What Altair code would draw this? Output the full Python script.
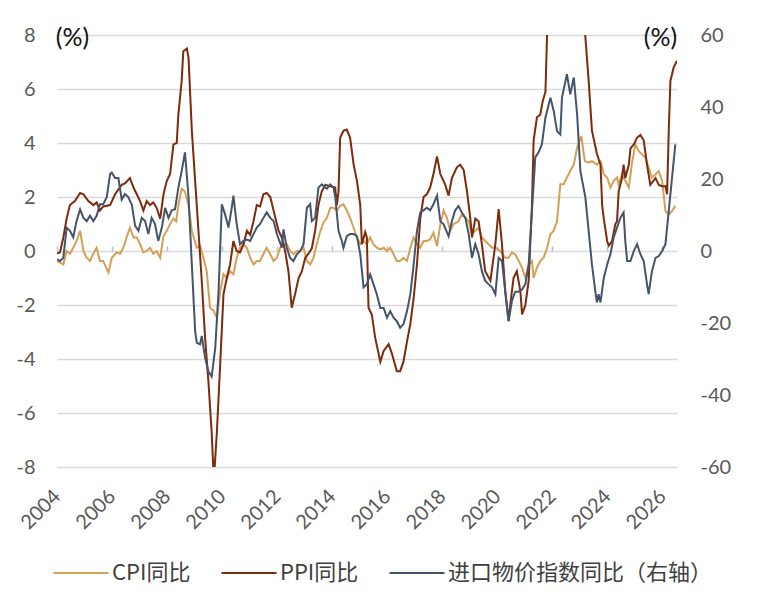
import altair as alt
import pandas as pd

CPI_NAME = "CPI同比"
PPI_NAME = "PPI同比"
IMP_NAME = "进口物价指数同比（右轴）"

# CPI YoY, %, left axis
cpi_year = [
    2004.00, 2004.11, 2004.23, 2004.35, 2004.47, 2004.59, 2004.71, 2004.84, 2004.96,
    2005.08, 2005.20, 2005.32, 2005.44, 2005.56, 2005.68, 2005.87, 2005.99, 2006.17,
    2006.29, 2006.41, 2006.53, 2006.65, 2006.78, 2006.90, 2007.02, 2007.14, 2007.26,
    2007.38, 2007.50, 2007.62, 2007.75, 2007.87, 2007.99, 2008.11, 2008.23, 2008.33,
    2008.41, 2008.53, 2008.65, 2008.78, 2008.90, 2009.08, 2009.20, 2009.32, 2009.44,
    2009.56, 2009.68, 2009.81, 2009.93, 2010.05, 2010.17, 2010.29, 2010.41, 2010.53,
    2010.65, 2010.78, 2010.90, 2011.02, 2011.14, 2011.26, 2011.38, 2011.50, 2011.62,
    2011.75, 2011.87, 2011.99, 2012.11, 2012.23, 2012.35, 2012.47, 2012.59, 2012.72,
    2012.84, 2012.96, 2013.08, 2013.20, 2013.32, 2013.44, 2013.56, 2013.68, 2013.81,
    2013.93, 2014.05, 2014.17, 2014.29, 2014.41, 2014.53, 2014.65, 2014.78, 2014.90,
    2015.02, 2015.14, 2015.26, 2015.38, 2015.50, 2015.62, 2015.75, 2015.87, 2015.99,
    2016.11, 2016.23, 2016.35, 2016.47, 2016.59, 2016.72, 2016.84, 2016.96, 2017.08,
    2017.20, 2017.32, 2017.44, 2017.56, 2017.68, 2017.81, 2017.93, 2018.05, 2018.17,
    2018.29, 2018.41, 2018.59, 2018.71, 2018.84, 2018.96, 2019.08, 2019.20, 2019.32,
    2019.44, 2019.56, 2019.68, 2019.81, 2019.93, 2020.11, 2020.29, 2020.41, 2020.53,
    2020.65, 2020.78, 2020.90, 2021.02, 2021.14, 2021.26, 2021.32, 2021.44, 2021.56,
    2021.68, 2021.81, 2021.93, 2022.05, 2022.17, 2022.29, 2022.41, 2022.53, 2022.65,
    2022.78, 2022.90, 2023.05, 2023.18, 2023.32, 2023.44, 2023.62, 2023.75, 2023.87,
    2023.99, 2024.11, 2024.23, 2024.35, 2024.41, 2024.53, 2024.65, 2024.78, 2024.90,
    2025.02, 2025.14, 2025.26, 2025.38, 2025.50, 2025.62, 2025.75, 2025.87, 2025.99,
    2026.11, 2026.23, 2026.35, 2026.47,
]
cpi_value = [
    -0.37, -0.43, -0.5, 0.0, -0.1, 0.12, 0.37, 0.75, 0.0,
    -0.25, -0.37, -0.1, 0.12, -0.37, -0.37, -0.8, -0.25, -0.05,
    -0.1, 0.12, 0.5, 0.86, 0.5, 0.5, 0.25, -0.05, 0.0,
    0.12, -0.1, 0.0, -0.25, 0.55, 0.75, 1.0, 1.2, 1.1,
    1.7, 2.3, 2.2, 1.7, 0.75, 0.12, 0.2, -0.25, -0.75,
    -2.1, -2.2, -2.47, -1.5, -0.86, -1.0, -0.75, -0.86, -0.25,
    0.12, 0.25, 0.12, -0.25, -0.5, -0.37, -0.37, -0.12, 0.12,
    -0.12, -0.37, -0.25, 0.12, 0.25, 0.25, 0.0, -0.12, 0.0,
    0.0, 0.12, -0.37, -0.5, -0.25, 0.25, 0.7, 1.05, 1.23,
    1.6, 1.6, 1.5, 1.67, 1.73, 1.5, 1.23, 0.86, 0.5,
    0.25, 0.37, 0.25, 0.5, 0.25, 0.12, 0.06, 0.12, 0.0,
    0.12, -0.12, -0.37, -0.37, -0.25, -0.37, 0.12, 0.5, 0.25,
    0.12, 0.37, 0.37, 0.43, 0.68, 0.18, 1.0, 1.5, 1.23,
    0.75, 1.0, 1.1, 1.35, 1.23, 1.1, 0.62, 0.75, 0.86,
    0.5, 0.37, 0.25, 0.12, 0.12, 0.0, -0.25, -0.25, -0.06,
    -0.12, -0.37, -0.62, -1.0, -0.5, -0.37, -1.0, -0.62, -0.37,
    -0.25, 0.12, 0.62, 0.75, 1.1, 2.47, 2.47, 2.72, 2.96,
    3.2, 3.83, 4.26, 3.33, 3.27, 3.33, 3.2, 3.33, 2.84,
    2.72, 2.35, 2.6, 2.72, 2.47, 2.84, 2.6, 2.35, 3.3,
    3.95, 3.7, 3.58, 3.46, 3.09, 2.72, 2.84, 2.96, 2.6,
    1.48, 1.36, 1.48, 1.67,
]

# PPI YoY, %, left axis (runs off the scale in 2009 and 2022)
ppi_year = [
    2004.00, 2004.11, 2004.23, 2004.35, 2004.47, 2004.65, 2004.84, 2004.96, 2005.14,
    2005.32, 2005.44, 2005.56, 2005.68, 2005.93, 2006.11, 2006.35, 2006.47, 2006.65,
    2006.78, 2006.90, 2007.02, 2007.14, 2007.26, 2007.38, 2007.50, 2007.62, 2007.75,
    2007.87, 2007.99, 2008.11, 2008.23, 2008.35, 2008.41, 2008.53, 2008.59, 2008.72,
    2008.78, 2008.90, 2009.14, 2009.26, 2009.38, 2009.50, 2009.62, 2009.70, 2009.81,
    2009.93, 2010.05, 2010.17, 2010.29, 2010.41, 2010.53, 2010.65, 2010.78, 2010.90,
    2011.02, 2011.14, 2011.26, 2011.38, 2011.50, 2011.62, 2011.75, 2011.87, 2012.05,
    2012.17, 2012.29, 2012.41, 2012.53, 2012.65, 2012.78, 2012.90, 2013.02, 2013.14,
    2013.26, 2013.38, 2013.50, 2013.62, 2013.75, 2013.93, 2014.11, 2014.17, 2014.23,
    2014.29, 2014.41, 2014.53, 2014.65, 2014.78, 2014.90, 2015.02, 2015.08, 2015.20,
    2015.26, 2015.32, 2015.44, 2015.56, 2015.75, 2015.87, 2016.05, 2016.17, 2016.35,
    2016.47, 2016.59, 2016.72, 2016.84, 2016.96, 2017.08, 2017.20, 2017.32, 2017.44,
    2017.56, 2017.68, 2017.81, 2017.93, 2018.11, 2018.23, 2018.35, 2018.53, 2018.65,
    2018.78, 2018.90, 2019.02, 2019.08, 2019.20, 2019.32, 2019.44, 2019.56, 2019.75,
    2019.93, 2020.05, 2020.17, 2020.29, 2020.41, 2020.47, 2020.59, 2020.71, 2020.84,
    2020.90, 2021.02, 2021.14, 2021.26, 2021.32, 2021.44, 2021.56, 2021.65, 2021.75,
    2021.83, 2022.20, 2022.60, 2022.95, 2023.15, 2023.32, 2023.44, 2023.62, 2023.75,
    2023.81, 2023.87, 2023.99, 2024.05, 2024.17, 2024.29, 2024.35, 2024.41, 2024.53,
    2024.59, 2024.65, 2024.78, 2024.84, 2024.96, 2025.08, 2025.20, 2025.32, 2025.44,
    2025.56, 2025.75, 2025.87, 2025.99, 2026.11, 2026.17, 2026.23, 2026.29, 2026.41,
    2026.53,
]
ppi_value = [
    -0.1, -0.05, 0.5, 1.2, 1.7, 1.85, 2.15, 2.1, 1.85,
    1.7, 1.8, 1.5, 1.65, 1.7, 2.1, 2.45, 2.5, 2.7,
    2.35, 2.1, 1.85, 1.5, 1.85, 1.7, 1.8, 1.6, 1.2,
    2.1, 2.6, 2.85, 3.95, 4.0, 5.05, 6.3, 7.4, 7.5,
    7.15, 4.45, 0.75, -1.1, -3.2, -4.8, -6.7, -8.5, -6.7,
    -4.2, -1.6, -1.0, -0.5, 0.37, 0.0, -0.05, 0.25, 0.75,
    0.6, 1.1, 1.7, 1.65, 2.1, 2.15, 2.0, 1.5, 0.75,
    0.5, 0.0, -0.75, -2.1, -1.6, -1.0, -0.75, -0.25, -0.1,
    0.1, 0.75, 1.7, 2.2, 2.45, 2.4, 2.35, 1.7, 2.2,
    4.2, 4.45, 4.5, 4.2, 3.2, 2.6, 1.7, 0.25, 0.7,
    0.5, -2.1, -2.35, -3.2, -4.1, -3.7, -3.45, -3.8, -4.45,
    -4.45, -4.1, -3.35, -2.7, -1.75, -0.5, 1.2, 2.0, 2.1,
    2.35, 2.85, 3.5, 2.85, 2.45, 2.05, 2.7, 3.1, 3.2,
    3.0, 2.2, 1.2, 0.5, 1.2, 1.1, 0.25, -0.75, -1.1,
    0.25, 1.55, 0.25, -1.5, -2.6, -2.0, -1.0, -0.75, -1.5,
    -2.35, -2.0, -1.1, 1.7, 4.1, 4.95, 5.05, 5.55, 5.9,
    8.8, 9.6, 9.9, 10.4, 8.6, 6.3, 4.45, 3.6, 3.2,
    1.7, 1.2, 0.37, 0.2, 0.37, 1.0, 1.1, 2.2, 2.7,
    3.2, 2.7, 3.2, 3.8, 3.95, 4.2, 4.3, 4.1, 3.2,
    2.45, 2.7, 2.45, 2.4, 2.4, 2.1, 4.45, 6.3, 6.8,
    7.05,
]

# Import price index YoY, %, right axis
imp_year = [
    2004.00, 2004.11, 2004.23, 2004.35, 2004.47, 2004.59, 2004.71, 2004.84, 2004.96,
    2005.08, 2005.20, 2005.32, 2005.44, 2005.56, 2005.68, 2005.81, 2005.93, 2005.99,
    2006.11, 2006.23, 2006.35, 2006.47, 2006.59, 2006.72, 2006.84, 2006.96, 2007.08,
    2007.20, 2007.32, 2007.44, 2007.56, 2007.68, 2007.81, 2007.93, 2008.05, 2008.17,
    2008.29, 2008.41, 2008.53, 2008.65, 2008.78, 2008.90, 2009.02, 2009.08, 2009.20,
    2009.26, 2009.38, 2009.50, 2009.62, 2009.75, 2009.87, 2009.99, 2010.11, 2010.23,
    2010.35, 2010.41, 2010.53, 2010.65, 2010.78, 2010.90, 2011.02, 2011.14, 2011.26,
    2011.38, 2011.50, 2011.62, 2011.75, 2011.87, 2011.99, 2012.17, 2012.23, 2012.35,
    2012.47, 2012.59, 2012.72, 2012.84, 2012.96, 2013.08, 2013.20, 2013.26, 2013.38,
    2013.50, 2013.62, 2013.75, 2013.81, 2013.93, 2014.05, 2014.11, 2014.23, 2014.35,
    2014.41, 2014.53, 2014.65, 2014.78, 2014.90, 2015.02, 2015.14, 2015.26, 2015.38,
    2015.50, 2015.62, 2015.75, 2015.87, 2015.99, 2016.11, 2016.23, 2016.35, 2016.47,
    2016.59, 2016.72, 2016.84, 2016.96, 2017.08, 2017.20, 2017.32, 2017.44, 2017.56,
    2017.68, 2017.81, 2017.93, 2018.05, 2018.23, 2018.35, 2018.47, 2018.59, 2018.71,
    2018.84, 2018.96, 2019.08, 2019.20, 2019.32, 2019.44, 2019.56, 2019.68, 2019.81,
    2019.93, 2020.05, 2020.17, 2020.29, 2020.41, 2020.53, 2020.65, 2020.78, 2020.90,
    2021.02, 2021.14, 2021.26, 2021.38, 2021.50, 2021.62, 2021.75, 2021.93, 2022.05,
    2022.17, 2022.29, 2022.35, 2022.53, 2022.65, 2022.78, 2022.90, 2023.02, 2023.20,
    2023.32, 2023.44, 2023.56, 2023.62, 2023.68, 2023.75, 2023.87, 2023.99, 2024.11,
    2024.23, 2024.35, 2024.47, 2024.59, 2024.65, 2024.72, 2024.84, 2024.96, 2025.08,
    2025.20, 2025.32, 2025.44, 2025.50, 2025.62, 2025.75, 2025.87, 2025.99, 2026.11,
    2026.23, 2026.35, 2026.47,
]
imp_value = [
    -2.3, -2.8, -1.9, 6.5, 5.6, 3.8, 8.3, 11.6, 9.2,
    8.3, 9.8, 8.3, 9.8, 13.0, 13.0, 15.0, 21.4, 21.8,
    20.3, 20.3, 14.3, 15.8, 15.0, 12.8, 7.0, 5.6, 9.2,
    8.3, 4.7, 9.2, 7.5, 2.8, 6.5, 12.0, 9.2, 11.3,
    11.6, 17.6, 22.2, 27.4, 15.0, -3.8, -22.2, -25.5, -25.9,
    -23.6, -29.6, -33.4, -34.9, -27.0, -11.3, 13.0, 10.1, 6.5,
    12.0, 15.4, 7.5, 1.9, 2.8, 3.2, 2.8, 4.7, 6.5,
    7.5, 9.2, 10.7, 9.2, 8.3, 4.7, 0.9, 6.0, 0.9,
    -1.9, -2.8, -0.9, 0.0, 1.9, 12.0, 13.0, 8.3, 9.2,
    17.6, 18.5, 17.6, 17.3, 18.5, 17.6, 15.0, 5.6, 2.8,
    0.9, 4.1, 4.7, 4.7, 4.1, -0.9, -10.1, -9.2, -6.5,
    -9.2, -12.0, -15.8, -15.8, -18.5, -16.7, -18.5, -19.5, -21.3,
    -20.3, -16.7, -12.0, -3.8, 5.6, 10.7, 11.3, 12.0, 11.3,
    13.0, 15.4, 8.3, 7.4, 4.1, 8.3, 11.3, 12.5, 10.7,
    9.2, 4.7, -1.9, 1.9, -0.9, -5.6, -8.3, -9.2, -10.1,
    -12.0, -1.9, -2.8, -11.3, -19.5, -13.9, -11.3, -11.3, -10.7,
    -9.2, -3.8, 11.3, 26.0, 27.4, 29.6, 37.1, 42.6, 38.9,
    33.3, 32.4, 42.6, 49.1, 43.5, 48.2, 38.0, 22.2, 14.9,
    5.6, -3.8, -11.1, -14.3, -12.0, -14.3, -7.5, -3.8, -0.9,
    3.8, 6.5, 9.2, 10.7, 2.8, -2.8, -2.8, 0.0, 1.9,
    -0.9, -2.8, -9.2, -12.0, -5.6, -1.9, -1.4, 0.0, 1.9,
    11.1, 20.4, 29.6,
]

SERIES = [CPI_NAME, PPI_NAME, IMP_NAME]
COLORS = ["#D4A058", "#7E2A0C", "#44546A"]
YEAR_TICKS = list(range(2004, 2027, 2))
LABEL_FONT = "Lato"
GRID = "#d9d9d9"
# plain hyphen for negatives, as in the original
PLAIN_LABEL = "datum.value + ''"

left_df = pd.concat([
    pd.DataFrame({"year": cpi_year, "value": cpi_value, "series": CPI_NAME}),
    pd.DataFrame({"year": ppi_year, "value": ppi_value, "series": PPI_NAME}),
])
right_df = pd.DataFrame({"year": imp_year, "value": imp_value, "series": IMP_NAME})

x_scale = alt.Scale(domain=[2004, 2026.53], nice=False, zero=False)

color = alt.Color(
    "series:N",
    sort=SERIES,
    scale=alt.Scale(domain=SERIES, range=COLORS),
    legend=alt.Legend(
        title=None, orient="none", legendX=-5, legendY=509,
        direction="horizontal", columns=3, columnPadding=26,
        symbolType="stroke", symbolSize=3025, symbolStrokeWidth=2.2,
        labelFont="Noto Sans CJK SC", labelFontSize=22, labelColor="#404040",
        labelOffset=2, labelLimit=400,
    ),
)

left = (
    alt.Chart(left_df)
    .mark_line(strokeWidth=2, clip=True)
    .encode(
        x=alt.X("year:Q", scale=x_scale, title=None, axis=alt.Axis(
            values=YEAR_TICKS, format="d", labelAngle=-45, labelAlign="right",
            labelBaseline="middle", labelPadding=26, ticks=False, domain=False,
            grid=False, labelFont=LABEL_FONT, labelFontSize=20, labelColor="#595959",
        )),
        y=alt.Y("value:Q", scale=alt.Scale(domain=[-8, 8], nice=False), axis=alt.Axis(
            values=list(range(-8, 9, 2)), labelExpr=PLAIN_LABEL, title="(%)",
            titleAngle=0, titleX=15, titleY=2, titleAlign="center",
            titleBaseline="middle", titleFont=LABEL_FONT, titleFontSize=25,
            titleFontWeight="normal", titleColor="#111111", labelPadding=22,
            ticks=False, domain=False, gridColor=GRID, gridWidth=1.5,
            labelFont=LABEL_FONT, labelFontSize=20, labelColor="#595959",
        )),
        color=color,
    )
)

right = (
    alt.Chart(right_df)
    .mark_line(strokeWidth=2, clip=True)
    .encode(
        # second x axis, lifted to the zero line: only its small tick marks show
        x=alt.X("year:Q", scale=x_scale, title=None, axis=alt.Axis(
            values=YEAR_TICKS, labels=False, ticks=True, tickSize=5,
            tickColor="#bfbfbf", tickWidth=1.5, domain=False, grid=False,
            offset=-216,
        )),
        y=alt.Y("value:Q", scale=alt.Scale(domain=[-60, 60], nice=False), axis=alt.Axis(
            orient="right", values=list(range(-60, 61, 20)), labelExpr=PLAIN_LABEL,
            title="(%)", titleAngle=0, titleX=-17, titleY=2, titleAlign="center",
            titleBaseline="middle", titleFont=LABEL_FONT, titleFontSize=25,
            titleFontWeight="normal", titleColor="#111111", labelPadding=23,
            ticks=False, domain=False, grid=False, labelFont=LABEL_FONT,
            labelFontSize=20, labelColor="#595959",
        )),
        color=color,
    )
)

chart = (
    alt.layer(left, right)
    .resolve_scale(y="independent")
    .resolve_axis(x="independent")
    .properties(
        width=620, height=432,
        autosize=alt.AutoSizeParams(type="none"),
        padding={"left": 49, "top": 27, "right": 80, "bottom": 135},
    )
    .configure_view(stroke=None)
)

chart.save("out.html", embed_options={"renderer": "svg", "actions": False})
